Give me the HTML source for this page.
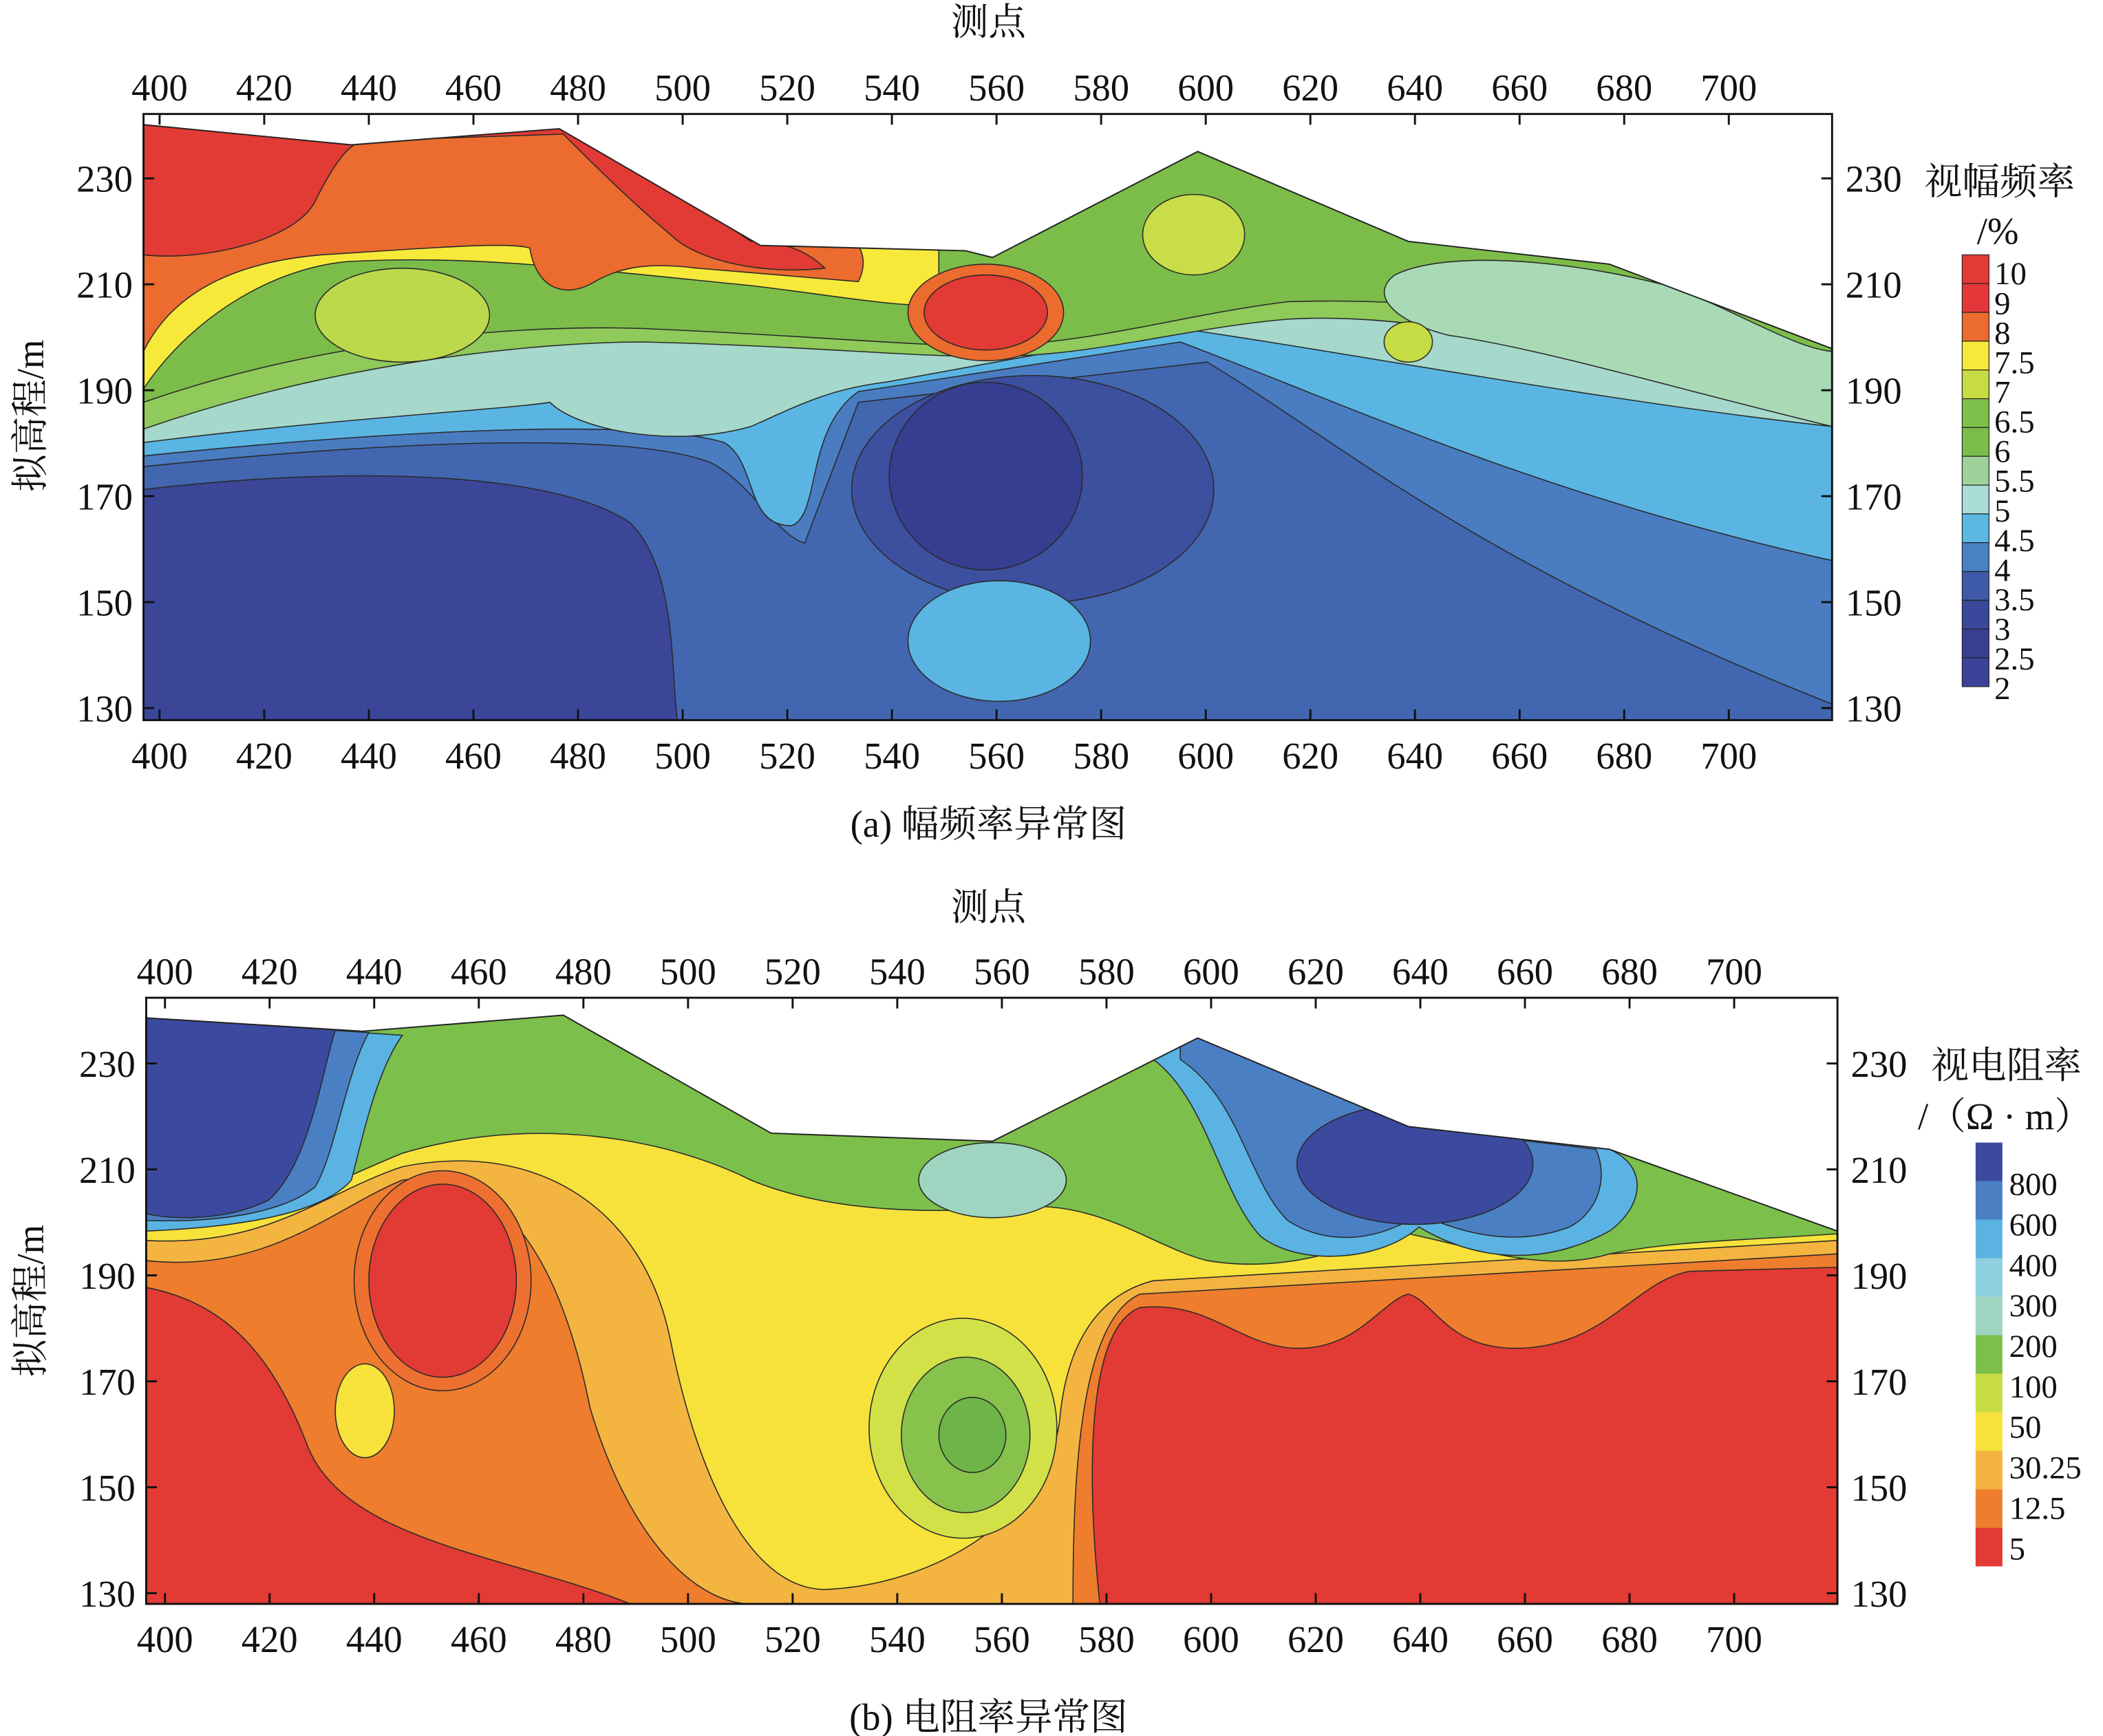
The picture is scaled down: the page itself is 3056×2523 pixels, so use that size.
<!DOCTYPE html>
<html><head><meta charset="utf-8"><style>
html,body{margin:0;padding:0;background:#fff}
svg{display:block}
text{font-family:"Liberation Serif","Noto Serif CJK SC","Noto Sans CJK SC",serif;fill:#111}
</style></head><body>
<svg id="s" width="3056" height="2523" viewBox="0 0 1568 1294.5" preserveAspectRatio="none" xmlns="http://www.w3.org/2000/svg">
<defs>
<clipPath id="ca"><rect x="107" y="85" width="1259" height="452"/></clipPath>
<clipPath id="cb"><rect x="109" y="744" width="1261" height="452"/></clipPath>
</defs>
<g clip-path="url(#ca)" stroke="#2a2a2a" stroke-width="0.8">
<rect x="107" y="85" width="1259" height="452" fill="#3b4699" stroke="none"/>
<path fill="#4366b0" d="M107,365 C280,345 420,355 470,390 C505,425 500,500 505,537 L1366,537 L1366,85 L107,85Z"/>
<path fill="#4a7cc2" d="M107,348 C300,328 470,322 530,345 C560,360 580,400 600,405 L640,300 L900,270 C1000,330 1100,420 1366,525 L1366,85 L107,85Z"/>
<path fill="#5ab5e3" d="M107,340 C300,320 480,312 540,330 C565,345 555,392 590,392 C612,385 600,320 640,292 L880,255 C1000,300 1150,370 1366,418 L1366,85 L107,85Z"/>
<path fill="#a6d8cb" d="M107,330 C250,312 380,305 410,300 C430,320 500,335 560,318 C600,300 620,290 660,285 L880,245 C1000,262 1200,300 1366,318 L1366,85 L107,85Z"/>
<path fill="#8fca5a" d="M107,320 C250,270 400,255 480,255 C600,258 680,266 740,266 C820,265 880,245 960,238 C1100,230 1250,290 1366,318 L1366,85 L107,85Z"/>
<path fill="#7cbd4a" d="M107,300 C250,250 400,242 480,245 C600,250 680,258 740,258 C820,255 880,235 960,225 C1100,220 1250,250 1366,262 L1366,85 L107,85Z"/>
<path fill="#a8dab6" d="M1040,205 C1080,185 1180,195 1250,215 C1300,235 1340,260 1366,262 L1366,318 C1250,290 1150,260 1080,250 C1040,240 1020,220 1040,205Z"/>
<ellipse cx="1050" cy="255" rx="18" ry="15" fill="#c5dc45"/>
<path fill="#f7e93a" d="M107,290 C140,240 200,200 260,195 C350,190 430,200 560,213 C620,220 660,228 700,228 L700,85 L107,85Z"/>
<ellipse cx="300" cy="235" rx="65" ry="35" fill="#bcd94b"/>
<ellipse cx="890" cy="175" rx="38" ry="30" fill="#c9dd48"/>
<path fill="#ec6b2e" d="M107,262 C130,215 180,195 240,190 C320,185 380,180 395,185 C400,215 420,222 440,212 C460,200 480,195 520,200 L640,210 C650,190 640,170 600,160 L640,85 L107,85Z"/>
<path fill="#e23a34" d="M107,85 L107,190 C150,195 220,180 235,150 C250,120 260,108 270,105 L420,100 C440,120 470,150 500,175 C520,195 570,205 615,200 C600,185 580,180 560,180 L417,85Z"/>
<ellipse cx="735" cy="233" rx="58" ry="36" fill="#ec6b2e"/>
<ellipse cx="735" cy="233" rx="46" ry="28" fill="#e23a34"/>
<ellipse cx="770" cy="365" rx="135" ry="85" fill="#3d4f9f"/>
<ellipse cx="735" cy="355" rx="72" ry="70" fill="#363e8f"/>
<ellipse cx="745" cy="478" rx="68" ry="45" fill="#5ab5e3"/>
<path fill="#fff" stroke="#222" stroke-width="1" d="M107,85 L107,93 L262,108 L417,96 L567,183 L720,187 L740,192 L893,113 L1050,180 L1200,197 L1366,260 L1366,85Z"/>
</g>
<g clip-path="url(#cb)" stroke="#2a2a2a" stroke-width="0.8">
<rect x="109" y="744" width="1261" height="452" fill="#e23a34" stroke="none"/>
<path fill="#ee7d2e" d="M109,960 C160,970 200,1000 230,1080 C260,1150 380,1160 470,1196 L820,1196 C810,1100 810,990 850,975 C900,970 920,1000 960,1005 C1010,1010 1030,970 1050,965 C1070,970 1080,1010 1140,1005 C1200,1000 1220,955 1260,948 L1370,945 L1370,744 L109,744Z"/>
<path fill="#f4b440" d="M109,940 C200,950 250,900 300,880 C380,870 420,950 440,1050 C470,1150 520,1196 560,1196 L800,1196 C800,1100 805,985 850,965 L1370,935 L1370,744 L109,744Z"/>
<path fill="#f6e23b" d="M109,925 C200,930 240,890 300,870 C400,850 480,900 500,1000 C520,1100 560,1190 620,1185 C700,1180 780,1130 790,1060 C795,1000 820,965 860,955 L1370,925 L1370,744 L109,744Z"/>
<ellipse cx="718" cy="1065" rx="70" ry="82" fill="#d2e148"/>
<path fill="#7cbf4a" d="M109,915 C200,910 250,880 300,860 C400,830 500,850 560,880 C620,905 700,905 760,900 C820,895 860,930 900,940 C960,950 1000,930 1050,920 C1100,930 1150,950 1200,935 C1250,925 1300,925 1370,920 L1370,744 L109,744Z"/>
<ellipse cx="720" cy="1070" rx="48" ry="58" fill="#86c24c"/>
<ellipse cx="725" cy="1070" rx="25" ry="28" fill="#6db548"/>
<ellipse cx="740" cy="880" rx="55" ry="28" fill="#9fd5c0"/>
<path fill="#5ab3e2" d="M109,759 L300,772 C280,800 270,850 262,880 C240,905 180,915 109,918Z"/>
<path fill="#4a7fc4" d="M109,759 L275,770 C258,800 250,860 235,885 C210,905 160,912 109,910Z"/>
<path fill="#3b4a9e" d="M109,759 L250,768 C240,800 230,870 200,895 C170,910 130,910 109,905Z"/>
<path fill="#5ab3e2" d="M860,778 L893,774 L1050,840 L1200,857 C1230,870 1225,900 1200,918 C1150,945 1100,940 1058,915 C1030,940 970,945 940,922 C910,890 900,820 860,790Z"/>
<path fill="#4a7fc4" d="M880,776 L893,774 L1050,840 L1190,857 C1200,880 1190,905 1170,915 C1130,930 1090,920 1058,905 C1030,925 990,930 960,910 C930,880 925,820 880,790Z"/>
<ellipse cx="1055" cy="868" rx="88" ry="45" fill="#3b4a9e"/>
<ellipse cx="330" cy="955" rx="66" ry="82" fill="#ee7030"/>
<ellipse cx="330" cy="955" rx="55" ry="72" fill="#e23a34"/>
<ellipse cx="272" cy="1052" rx="22" ry="35" fill="#f6e23b"/>
<path fill="#fff" stroke="#222" stroke-width="1" d="M109,744 L109,759 L270,769 L420,757 L575,845 L740,851 L893,774 L1050,840 L1200,857 L1370,918 L1370,744Z"/>
</g>
<g id="ax" fill="none" stroke="#111" stroke-width="1.5">
<rect x="107" y="85" width="1259" height="452"/>
<rect x="109" y="744" width="1261" height="452"/>
</g>
<g id="lab"></g>
<text x="737" y="26" font-size="28" text-anchor="middle">测点</text>
<text x="737" y="686" font-size="28" text-anchor="middle">测点</text>
<text x="737" y="624" font-size="28" text-anchor="middle">(a) 幅频率异常图</text>
<text x="737" y="1290" font-size="28" text-anchor="middle">(b) 电阻率异常图</text>
<text transform="translate(32,310) rotate(-90)" font-size="28" text-anchor="middle">拟高程/m</text>
<text transform="translate(32,970) rotate(-90)" font-size="28" text-anchor="middle">拟高程/m</text>
<text x="1435" y="145" font-size="28">视幅频率</text>
<text x="1474" y="182" font-size="28">/%</text>
<text x="1440" y="804" font-size="28">视电阻率</text>
<text x="1430" y="842" font-size="28">/（Ω · m）</text>
</svg>
<script>
var NS="http://www.w3.org/2000/svg",g=document.getElementById('lab'),ax=document.getElementById('ax');
function T(x,y,s,sz,a){var t=document.createElementNS(NS,'text');t.setAttribute('x',x);t.setAttribute('y',y);t.setAttribute('font-size',sz||28);if(a)t.setAttribute('text-anchor',a);t.textContent=s;g.appendChild(t);}
function L(x1,y1,x2,y2){var l=document.createElementNS(NS,'line');l.setAttribute('x1',x1);l.setAttribute('y1',y1);l.setAttribute('x2',x2);l.setAttribute('y2',y2);ax.appendChild(l);}
function panel(x0,top,bot,left,right,y230){
 for(var i=0;i<16;i++){var x=x0+i*78,v=400+i*20;T(x,top-10,v,28,'middle');T(x,bot+36,v,28,'middle');L(x,top,x,top+8);L(x,bot,x,bot-8);}
 for(var j=0;j<6;j++){var y=y230+j*79,v=230-j*20;T(left-8,y+10,v,28,'end');T(right+10,y+10,v,28);L(left,y,left+8,y);L(right,y,right-8,y);}
}
panel(119,85,537,107,1366,133);
panel(123,744,1196,109,1370,793);
var ca=["#e23a34","#e5363a","#ec6b2e","#f7e93a","#c6dc42","#7fc04a","#7abd48","#9fd29a","#a9ddd6","#5ab8e3","#4a80c4","#3f5aa8","#3a479b","#383f92","#3a4398"];
var h=(512-190)/15;
for(var i=0;i<15;i++){var r=document.createElementNS(NS,'rect');r.setAttribute('x',1463);r.setAttribute('y',190+i*h);r.setAttribute('width',20);r.setAttribute('height',h);r.setAttribute('fill',ca[i]);r.setAttribute('stroke','#222');r.setAttribute('stroke-width','0.6');g.appendChild(r);}
var la=["10","9","8","7.5","7","6.5","6","5.5","5","4.5","4","3.5","3","2.5","2"];
for(var i=0;i<15;i++)T(1487,212+i*22.1,la[i],24);
var cb=["#3b4a9e","#4a7fc4","#5ab3e2","#8fd0e0","#9fd5c0","#7cbf4a","#c8dc44","#f6e23b","#f4b440","#ee7d2e","#e23a34"];
var hb=(1168-852)/11;
for(var i=0;i<11;i++){var r=document.createElementNS(NS,'rect');r.setAttribute('x',1473);r.setAttribute('y',852+i*hb);r.setAttribute('width',20);r.setAttribute('height',hb);r.setAttribute('fill',cb[i]);g.appendChild(r);}
var lb=["800","600","400","300","200","100","50","30.25","12.5","5"];
for(var i=0;i<10;i++)T(1498,891+i*30.2,lb[i],24);
</script>
</body></html>
